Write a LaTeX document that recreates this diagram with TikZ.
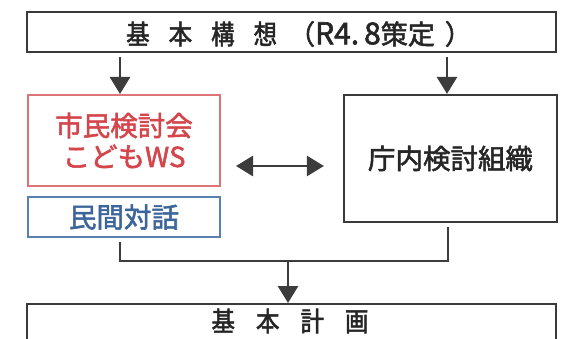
\documentclass[tikz,border=0pt]{standalone}
\usepackage{fontspec}
\setmainfont{Noto Sans CJK JP}
\newfontfamily\hdfont[FakeStretch=0.87, FakeBold=2]{Noto Sans CJK JP}
\newfontfamily\bodyfont[FakeBold=2]{Noto Sans CJK JP}
\usetikzlibrary{arrows.meta}
\definecolor{boxgray}{HTML}{3A3A3A}
\definecolor{arrowgray}{HTML}{3C3C3C}
\definecolor{redtext}{HTML}{D5454C}
\definecolor{redline}{HTML}{DD7478}
\definecolor{bluetext}{HTML}{3B659B}
\definecolor{blueline}{HTML}{5A80B0}
\tikzset{
  box/.style={draw=boxgray, line width=2.2pt, inner sep=0pt, align=center, text=black},
  redbox/.style={draw=redline, line width=2pt, inner sep=0pt, align=center, text=redtext},
  bluebox/.style={draw=blueline, line width=2pt, inner sep=0pt, align=center, text=bluetext},
  hdtext/.style={font=\hdfont\fontsize{27}{29}\selectfont, inner sep=0pt, text=black!85},
  bodytext/.style={font=\bodyfont\fontsize{27.5}{31}\selectfont},
  conn/.style={draw=arrowgray, line width=2.8pt},
  tip/.tip={Triangle[length=17pt,width=20pt]},
  arr/.style={conn, -tip},
  darr/.style={conn, tip-tip},
}
\newcommand{\numfont}{\bodyfont\fontsize{30}{31}\selectfont}
\newcommand{\cjkunst}{\bodyfont\fontsize{27}{29}\selectfont}
\begin{document}
\begin{tikzpicture}[x=1pt,y=-1pt]
\useasboundingbox (0,0) rectangle (564,339);
% boxes
\node[box, minimum width=529pt, minimum height=40pt] (top) at (291.5,32) {};
\node[hdtext] (toptext) at (299,34)
  {基\hspace{19pt}本\hspace{19pt}構\hspace{19pt}想\hspace{11pt}{\cjkunst （}{\numfont R4.}\hspace{5pt}{\numfont 8}{\cjkunst 策定}\hspace{10pt}{\cjkunst ）}};
\node[redbox, bodytext, minimum width=192pt, minimum height=91pt] (red) at (124,140.5)
  {市民検討会\\こどもWS};
\node[bluebox, bodytext, minimum width=192pt, minimum height=40pt] (blue) at (124,217)
  {民間対話};
\node[box, bodytext, minimum width=213pt, minimum height=127pt, text=black!85] (org) at (450.5,158.5)
  {庁内検討組織};
\node[box, minimum width=529pt, minimum height=60pt, anchor=north] (plan) at (291.5,303) {};
\node[hdtext] (plantext) at (290,321)
  {基\hspace{21pt}本\hspace{21pt}計\hspace{21pt}画};
% arrows from top
\draw[arr, shorten <=4pt] (top.south -| 120,0) -- (red.north -| 120,0);
\draw[arr, shorten <=4pt] (top.south -| 447,0) -- (org.north -| 447,0);
% double arrow
\draw[darr, shorten <=15pt, shorten >=19pt] (red.east |- 0,166) -- (org.west |- 0,166);
% merge
\coordinate (j1) at (120,261);
\coordinate (j2) at (448,261);
\coordinate (jm) at (288,261);
\draw[conn, shorten <=4pt, shorten >=4pt, line join=miter] (blue.south -| 120,0) -- (j1) -- (j2) -- (org.south -| 448,0);
\draw[arr] (jm) -- (plan.north -| jm);
\end{tikzpicture}
\end{document}
